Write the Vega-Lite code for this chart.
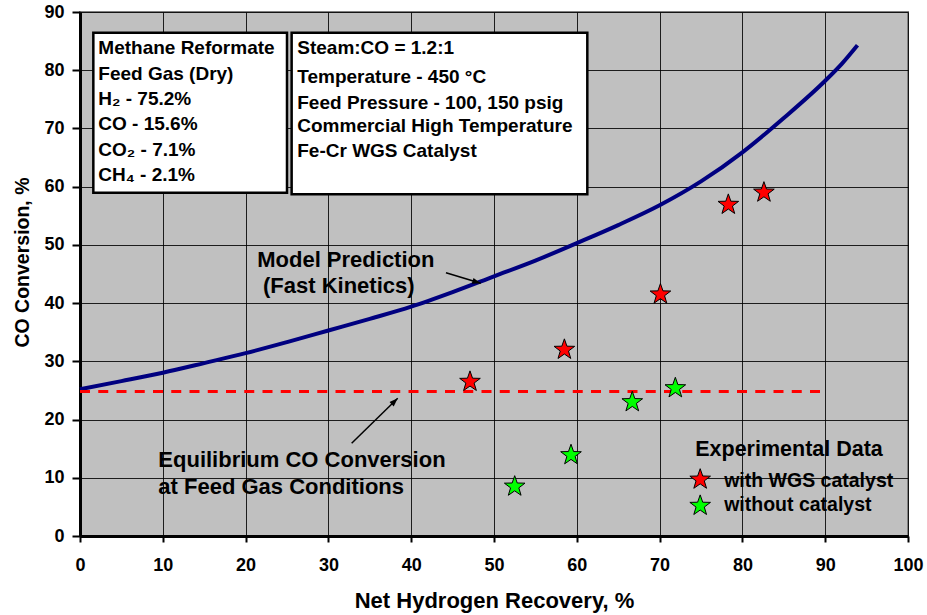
{
  "$schema": "https://vega.github.io/schema/vega-lite/v6.json",
  "width": 828,
  "height": 524,
  "autosize": {"type": "none"},
  "padding": {"left": 80, "top": 12, "right": 19, "bottom": 79},
  "background": "white",
  "config": {
    "view": {"fill": "#C0C0C0", "stroke": "#808080", "strokeWidth": 2},
    "font": "Liberation Sans"
  },
  "datasets": {
    "curve": [
      {"x": 0, "y": 25.2}, {"x": 5, "y": 26.6}, {"x": 10, "y": 28.05}, {"x": 15, "y": 29.7},
      {"x": 20, "y": 31.4}, {"x": 25, "y": 33.3}, {"x": 30, "y": 35.3}, {"x": 35, "y": 37.3},
      {"x": 40, "y": 39.4}, {"x": 45, "y": 41.9}, {"x": 50, "y": 44.6}, {"x": 55, "y": 47.3},
      {"x": 60, "y": 50.3}, {"x": 65, "y": 53.4}, {"x": 70, "y": 56.8}, {"x": 75, "y": 60.9},
      {"x": 80, "y": 65.9}, {"x": 85, "y": 71.8}, {"x": 90, "y": 78.2}, {"x": 92, "y": 81.1},
      {"x": 93.9, "y": 84.3}
    ],
    "equilibrium": [
      {"x": 0, "y": 24.8}, {"x": 89.4, "y": 24.8}
    ],
    "stars": [
      {"x": 47.1, "y": 26.5, "series": "with WGS catalyst"},
      {"x": 58.5, "y": 32.0, "series": "with WGS catalyst"},
      {"x": 70.1, "y": 41.5, "series": "with WGS catalyst"},
      {"x": 78.3, "y": 56.9, "series": "with WGS catalyst"},
      {"x": 82.6, "y": 59.0, "series": "with WGS catalyst"},
      {"x": 52.5, "y": 8.5, "series": "without catalyst"},
      {"x": 59.3, "y": 13.9, "series": "without catalyst"},
      {"x": 66.7, "y": 23.0, "series": "without catalyst"},
      {"x": 71.9, "y": 25.4, "series": "without catalyst"}
    ],
    "legendStars": [
      {"x": 74.9, "y": 9.7, "series": "with WGS catalyst"},
      {"x": 74.9, "y": 5.2, "series": "without catalyst"}
    ],
    "boxes": [
      {"x": 1.61, "x2": 25.0, "y": 86.45, "y2": 58.96},
      {"x": 25.56, "x2": 61.27, "y": 86.45, "y2": 58.69}
    ],
    "labels": [
      {"x": 2.21, "y": 82.73, "text": "Methane Reformate", "g": "box"},
      {"x": 2.21, "y": 78.39, "text": "Feed Gas (Dry)", "g": "box"},
      {"x": 2.21, "y": 74.04, "text": "H₂ - 75.2%", "g": "box"},
      {"x": 2.21, "y": 69.70, "text": "CO - 15.6%", "g": "box"},
      {"x": 2.21, "y": 65.35, "text": "CO₂ - 7.1%", "g": "box"},
      {"x": 2.21, "y": 61.01, "text": "CH₄ - 2.1%", "g": "box"},
      {"x": 26.24, "y": 82.73, "text": "Steam:CO = 1.2:1", "g": "box"},
      {"x": 26.24, "y": 77.75, "text": "Temperature - 450 °C", "g": "box"},
      {"x": 26.24, "y": 73.34, "text": "Feed Pressure - 100, 150 psig", "g": "box"},
      {"x": 26.24, "y": 69.34, "text": "Commercial High Temperature", "g": "box"},
      {"x": 26.24, "y": 65.15, "text": "Fe-Cr WGS Catalyst", "g": "box"},
      {"x": 21.4, "y": 46.26, "text": "Model Prediction", "g": "note"},
      {"x": 22.1, "y": 41.79, "text": "(Fast Kinetics)", "g": "note"},
      {"x": 9.46, "y": 11.9, "text": "Equilibrium CO Conversion", "g": "note"},
      {"x": 9.46, "y": 7.16, "text": "at Feed Gas Conditions", "g": "note"},
      {"x": 74.3, "y": 13.74, "text": "Experimental Data", "g": "legendTitle"},
      {"x": 77.8, "y": 8.47, "text": "with WGS catalyst", "g": "legendItem"},
      {"x": 77.8, "y": 4.35, "text": "without catalyst", "g": "legendItem"}
    ],
    "arrows": [
      {"name": "model", "x": 44.2, "y": 45.2, "x2": 48.4, "y2": 43.4},
      {"name": "eq", "x": 32.81, "y": 15.92, "x2": 38.37, "y2": 23.65}
    ]
  },
  "layer": [
    {
      "data": {"name": "curve"},
      "mark": {"type": "line", "color": "#000080", "strokeWidth": 4, "interpolate": "monotone"},
      "encoding": {
        "x": {
          "field": "x", "type": "quantitative",
          "scale": {"domain": [0, 100], "nice": false, "zero": false},
          "axis": {
            "title": "Net Hydrogen Recovery, %",
            "values": [0, 10, 20, 30, 40, 50, 60, 70, 80, 90, 100],
            "grid": true, "gridColor": "#000000", "gridWidth": 1, "gridOpacity": 0.85,
            "domainColor": "#000000", "domainWidth": 3,
            "tickColor": "#000000", "tickWidth": 2, "tickSize": 6,
            "labelFont": "Liberation Sans", "labelFontWeight": "bold", "labelFontSize": 18,
            "labelColor": "#000000", "labelPadding": 14, "labelFlush": false, "labelOverlap": false,
            "titleFont": "Liberation Sans", "titleFontWeight": "bold", "titleFontSize": 22,
            "titleColor": "#000000", "titleBaseline": "alphabetic", "titleY": 71
          }
        },
        "y": {
          "field": "y", "type": "quantitative",
          "scale": {"domain": [0, 90], "nice": false, "zero": false},
          "axis": {
            "title": "CO Conversion, %",
            "values": [0, 10, 20, 30, 40, 50, 60, 70, 80, 90],
            "grid": true, "gridColor": "#000000", "gridWidth": 1, "gridOpacity": 0.85,
            "domainColor": "#000000", "domainWidth": 3,
            "tickColor": "#000000", "tickWidth": 2, "tickSize": 8,
            "labelFont": "Liberation Sans", "labelFontWeight": "bold", "labelFontSize": 18,
            "labelColor": "#000000", "labelPadding": 8, "labelFlush": false, "labelOverlap": false,
            "titleFont": "Liberation Sans", "titleFontWeight": "bold", "titleFontSize": 19.5,
            "titleColor": "#000000", "titleBaseline": "alphabetic", "titleAlign": "center",
            "titleX": -52, "titleY": 250, "titleAngle": -90
          }
        }
      }
    },
    {
      "data": {"name": "equilibrium"},
      "mark": {"type": "line", "color": "#FF0000", "strokeWidth": 3, "strokeDash": [10, 8.25]},
      "encoding": {
        "x": {"field": "x", "type": "quantitative"},
        "y": {"field": "y", "type": "quantitative"}
      }
    },
    {
      "data": {"name": "boxes"},
      "mark": {"type": "rect", "fill": "#FFFFFF", "stroke": "#000000", "strokeWidth": 2.5},
      "encoding": {
        "x": {"field": "x", "type": "quantitative"},
        "x2": {"field": "x2"},
        "y": {"field": "y", "type": "quantitative"},
        "y2": {"field": "y2"}
      }
    },
    {
      "data": {"name": "labels"},
      "transform": [{"filter": "datum.g === 'box'"}],
      "mark": {"type": "text", "align": "left", "baseline": "alphabetic", "font": "Liberation Sans", "fontWeight": "bold", "fontSize": 19, "color": "#000000"},
      "encoding": {
        "x": {"field": "x", "type": "quantitative"},
        "y": {"field": "y", "type": "quantitative"},
        "text": {"field": "text"}
      }
    },
    {
      "data": {"name": "labels"},
      "transform": [{"filter": "datum.g === 'note'"}],
      "mark": {"type": "text", "align": "left", "baseline": "alphabetic", "font": "Liberation Sans", "fontWeight": "bold", "fontSize": 22, "color": "#000000"},
      "encoding": {
        "x": {"field": "x", "type": "quantitative"},
        "y": {"field": "y", "type": "quantitative"},
        "text": {"field": "text"}
      }
    },
    {
      "data": {"name": "labels"},
      "transform": [{"filter": "datum.g === 'legendTitle'"}],
      "mark": {"type": "text", "align": "left", "baseline": "alphabetic", "font": "Liberation Sans", "fontWeight": "bold", "fontSize": 21.5, "color": "#000000"},
      "encoding": {
        "x": {"field": "x", "type": "quantitative"},
        "y": {"field": "y", "type": "quantitative"},
        "text": {"field": "text"}
      }
    },
    {
      "data": {"name": "labels"},
      "transform": [{"filter": "datum.g === 'legendItem'"}],
      "mark": {"type": "text", "align": "left", "baseline": "alphabetic", "font": "Liberation Sans", "fontWeight": "bold", "fontSize": 19.5, "color": "#000000"},
      "encoding": {
        "x": {"field": "x", "type": "quantitative"},
        "y": {"field": "y", "type": "quantitative"},
        "text": {"field": "text"}
      }
    },
    {
      "data": {"name": "arrows"},
      "mark": {"type": "rule", "color": "#000000", "strokeWidth": 1.5},
      "encoding": {
        "x": {"field": "x", "type": "quantitative"},
        "y": {"field": "y", "type": "quantitative"},
        "x2": {"field": "x2"},
        "y2": {"field": "y2"}
      }
    },
    {
      "data": {"name": "arrows"},
      "transform": [{"filter": "datum.name === 'model'"}],
      "mark": {"type": "point", "shape": "M0,0L-0.6,1.7L0.6,1.7Z", "filled": true, "fill": "#000000", "stroke": null, "opacity": 1, "size": 100, "angle": 107},
      "encoding": {
        "x": {"field": "x2", "type": "quantitative"},
        "y": {"field": "y2", "type": "quantitative"}
      }
    },
    {
      "data": {"name": "arrows"},
      "transform": [{"filter": "datum.name === 'eq'"}],
      "mark": {"type": "point", "shape": "M0,0L-0.6,1.7L0.6,1.7Z", "filled": true, "fill": "#000000", "stroke": null, "opacity": 1, "size": 100, "angle": 45.6},
      "encoding": {
        "x": {"field": "x2", "type": "quantitative"},
        "y": {"field": "y2", "type": "quantitative"}
      }
    },
    {
      "data": {"name": "stars"},
      "mark": {"type": "point", "shape": "M0,-1L0.235,-0.324L0.951,-0.309L0.380,0.124L0.588,0.809L0,0.4L-0.588,0.809L-0.380,0.124L-0.951,-0.309L-0.235,-0.324Z", "filled": true, "size": 470, "stroke": "#000000", "strokeWidth": 1, "opacity": 1},
      "encoding": {
        "x": {"field": "x", "type": "quantitative"},
        "y": {"field": "y", "type": "quantitative"},
        "fill": {"field": "series", "type": "nominal", "scale": {"domain": ["with WGS catalyst", "without catalyst"], "range": ["#FF0000", "#00FF00"]}, "legend": null}
      }
    },
    {
      "data": {"name": "legendStars"},
      "mark": {"type": "point", "shape": "M0,-1L0.235,-0.324L0.951,-0.309L0.380,0.124L0.588,0.809L0,0.4L-0.588,0.809L-0.380,0.124L-0.951,-0.309L-0.235,-0.324Z", "filled": true, "size": 470, "stroke": "#000000", "strokeWidth": 1, "opacity": 1},
      "encoding": {
        "x": {"field": "x", "type": "quantitative"},
        "y": {"field": "y", "type": "quantitative"},
        "fill": {"field": "series", "type": "nominal", "legend": null}
      }
    }
  ]
}
